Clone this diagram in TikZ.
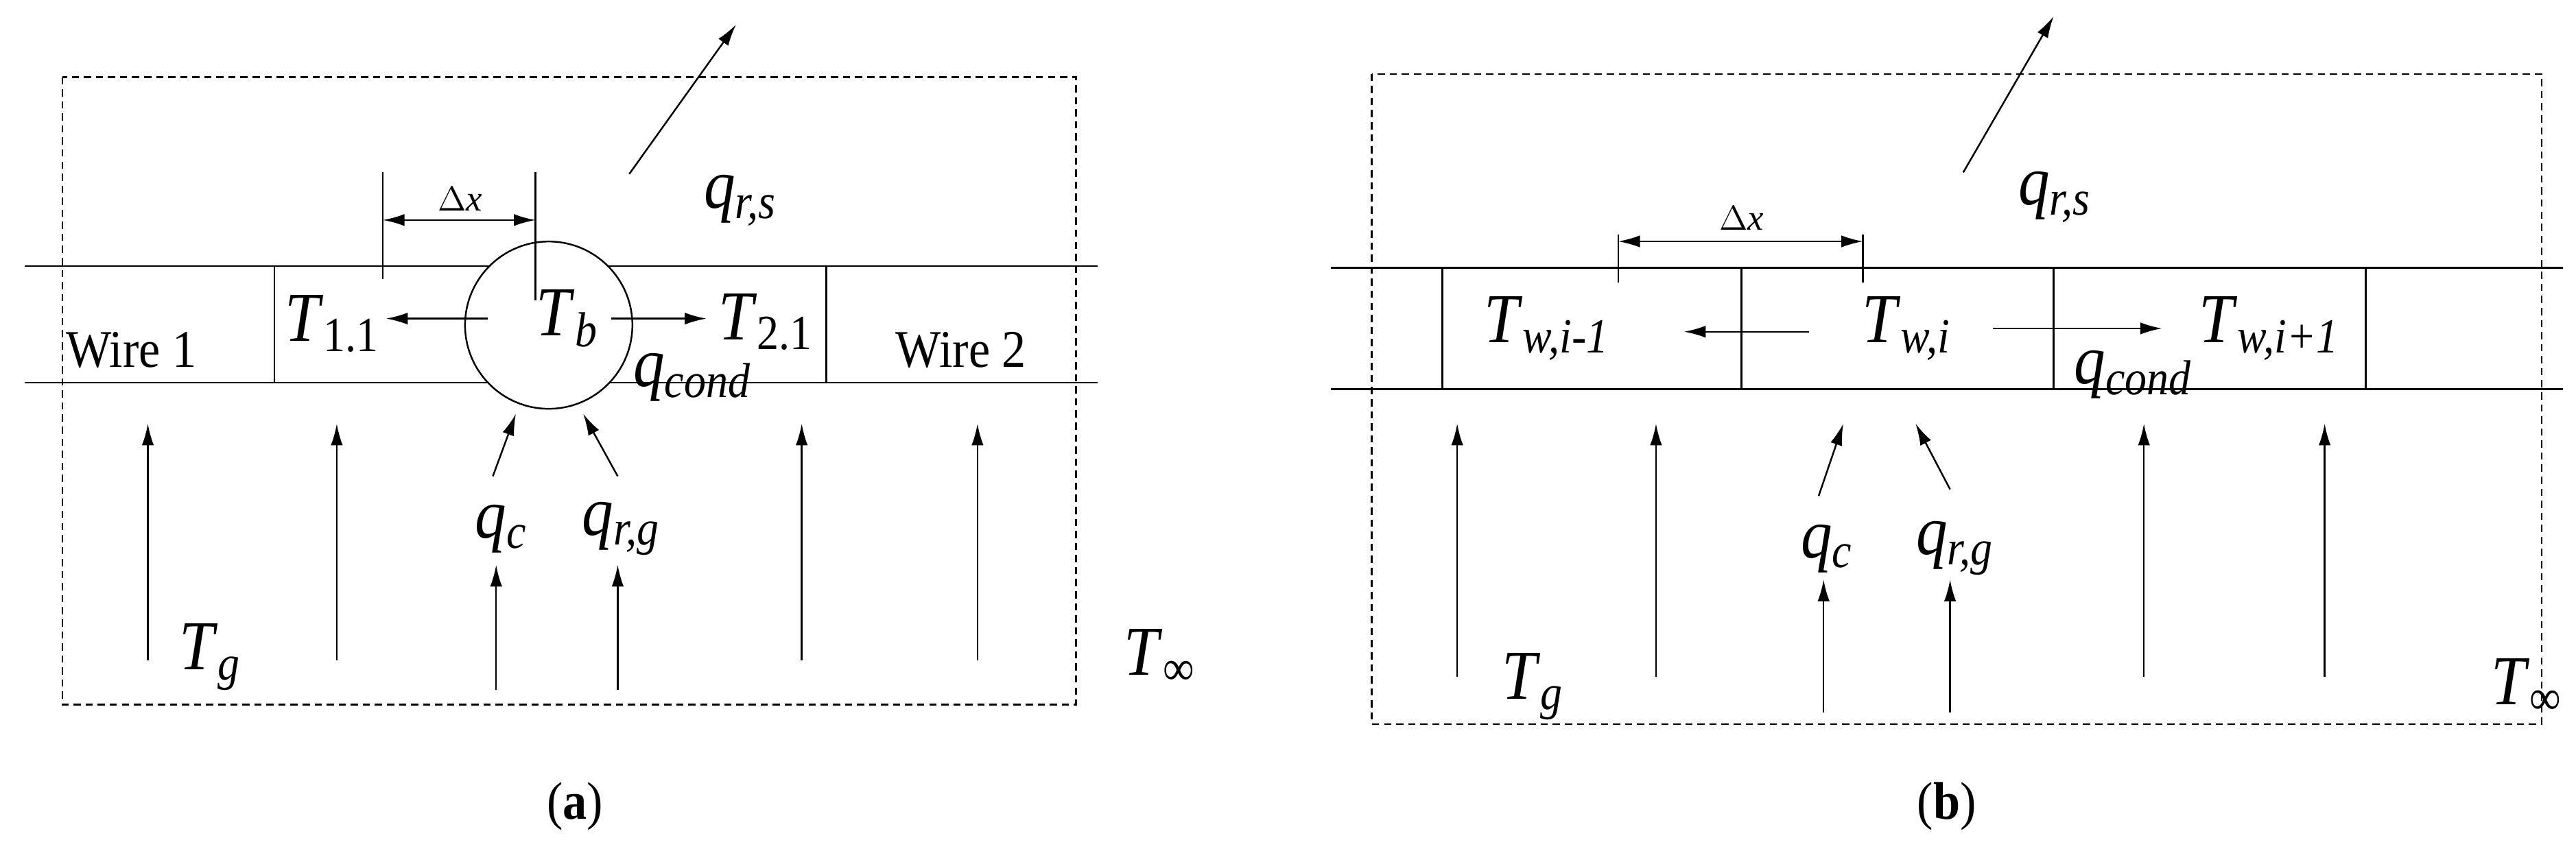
\documentclass[tikz,border=0pt]{standalone}
\usepackage{fontspec}
\setmainfont{Liberation Serif}
\usetikzlibrary{arrows.meta,shapes.geometric}
\newcommand{\vr}[2]{\textit{#1}\textsubscript{\textit{#2}}}
\newcommand{\vu}[2]{\textit{#1}\textsubscript{#2}}
\begin{document}
\begin{tikzpicture}[x=0.02395cm,y=-0.02395cm,line width=0.7pt,
  ar/.style={-{Latex[length=9pt,width=5pt]}},
  dar/.style={{Latex[length=9pt,width=5pt]}-{Latex[length=9pt,width=5pt]}},
  box/.style={dash pattern=on 3pt off 2pt},
  big/.style={font=\fontsize{26}{27}\selectfont,inner sep=0pt,yscale=1.12},
  mid/.style={font=\fontsize{20}{22}\selectfont,inner sep=0pt,yscale=1.1},
  sm/.style={font=\fontsize{15}{17}\selectfont,inner sep=0pt}]
\useasboundingbox (0,0) rectangle (1568,518);
% ---------- (a)
\draw[box] (38,47) rectangle (655,429);
\coordinate (aw1) at (15,162); \coordinate (aw2) at (668,162);
\coordinate (aw3) at (15,233); \coordinate (aw4) at (668,233);
\draw (aw1) -- (aw2) (aw3) -- (aw4);
\draw (167,162) -- (167,233) (503,162) -- (503,233);
\draw (233,105) -- (233,170);
\node[draw,fill=white,circle,minimum size=2.44cm,inner sep=0] (cb) at (334,198) {};
\draw (326,105) -- (326,183);
\draw[dar] (233,134) -- (326,134);
\node[sm] (dxa) at (280,121) {$\Delta$\textit{x}};
\coordinate (qa1) at (383,106); \coordinate (qa2) at (448,15);
\draw[ar] (qa1) -- (qa2);
\node[big,anchor=west] (qrsa) at (428,122) {\vr{q}{r,s}};
\node[big,anchor=west] (t11) at (173,197) {\vu{T}{1.1}};
\node[big,anchor=west] (tb) at (326,194) {\vr{T}{b}};
\node[big,anchor=west] (t21) at (437,196) {\vu{T}{2.1}};
\node[big,anchor=west] (qcda) at (385,230) {\vr{q}{cond}};
\node[mid] (w1) at (80,213) {Wire 1};
\node[mid] (w2) at (585,213) {Wire 2};
\draw[ar] (297,194) -- (235,194);
\draw[ar] (372,194) -- (430,194);
\foreach \x in {90,205,488,595} \draw[ar] (\x,402) -- (\x,258);
\draw[ar] (300,290) -- (314,252);
\draw[ar] (376,290) -- (355,252);
\node[big] (qca) at (305,322) {\vr{q}{c}};
\node[big] (qrga) at (378,322) {\vr{q}{r,g}};
\foreach \x in {302,376} \draw[ar] (\x,420) -- (\x,344);
\node[big] (tga) at (128,400) {\vr{T}{g}};
\node[big] (tia) at (706,400) {\textit{T}\textsubscript{∞}};
\node[mid] (la) at (350,491) {(\textbf{a})};
% ---------- (b)
\draw[box] (835,45) rectangle (1547,441);
\draw (810,163) -- (1560,163) (810,237) -- (1560,237);
\foreach \x in {878,1060,1250,1440} \draw (\x,163) -- (\x,237);
\draw (985,143) -- (985,172) (1134,143) -- (1134,172);
\draw[dar] (985,147) -- (1134,147);
\node[sm] (dxb) at (1060,133) {$\Delta$\textit{x}};
\draw[ar] (1195,105) -- (1250,10);
\node[big,anchor=west] (qrsb) at (1228,120) {\vr{q}{r,s}};
\node[big,anchor=west] (twm) at (903,200) {\vr{T}{w,i-1}};
\node[big,anchor=west] (twi) at (1133,200) {\vr{T}{w,i}};
\node[big,anchor=west] (twp) at (1338,200) {\vr{T}{w,i+1}};
\node[big,anchor=west] (qcdb) at (1262,228) {\vr{q}{cond}};
\draw[ar] (1101,202) -- (1025,202);
\draw[ar] (1213,200) -- (1316,200);
\foreach \x in {887,1008,1305,1415} \draw[ar] (\x,412) -- (\x,258);
\draw[ar] (1107,302) -- (1122,258);
\draw[ar] (1187,298) -- (1166,258);
\node[big] (qcb) at (1112,334) {\vr{q}{c}};
\node[big] (qrgb) at (1190,334) {\vr{q}{r,g}};
\foreach \x in {1110,1187} \draw[ar] (\x,434) -- (\x,353);
\node[big] (tgb) at (933,418) {\vr{T}{g}};
\node[big] (tib) at (1538,418) {\textit{T}\textsubscript{∞}};
\node[mid] (lb) at (1185,491) {(\textbf{b})};
\end{tikzpicture}
\end{document}
